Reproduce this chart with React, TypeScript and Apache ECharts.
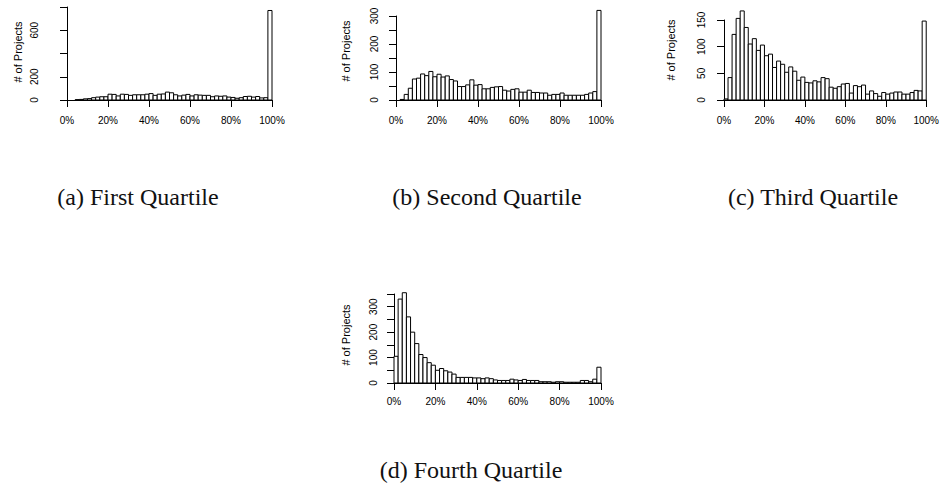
import React, { useEffect, useRef } from "react";
import * as echarts from "echarts";

// Histogram bin width in percent (50 bins from 0% to 100%)
const binWidth = 2;

// Counts per 2% bin
const q1Counts = [
  0, 0, 3, 5, 10, 12, 20, 25, 28, 28,
  50, 48, 35, 50, 48, 40, 45, 45, 45, 50,
  55, 40, 50, 52, 68, 62, 45, 35, 42, 48,
  35, 45, 42, 40, 40, 28, 35, 32, 35, 25,
  22, 15, 20, 30, 32, 25, 30, 18, 20, 770,
];
const q2Counts = [
  0, 2, 20, 42, 75, 78, 93, 87, 102, 83,
  92, 82, 86, 73, 68, 48, 48, 54, 72, 53,
  55, 40, 40, 45, 47, 48, 35, 32, 38, 40,
  28, 28, 35, 27, 27, 25, 25, 17, 20, 20,
  25, 17, 17, 17, 17, 17, 20, 25, 30, 320,
];
const q3Counts = [
  2, 42, 123, 153, 167, 136, 105, 115, 93, 103,
  83, 86, 61, 73, 67, 52, 62, 54, 37, 43,
  33, 32, 36, 34, 42, 40, 24, 22, 25, 30,
  31, 13, 27, 25, 28, 11, 17, 12, 7, 14,
  11, 13, 15, 15, 11, 11, 14, 18, 17, 148,
];
const q4Counts = [
  105, 330, 355, 260, 200, 155, 112, 100, 80, 70,
  50, 57, 48, 43, 35, 22, 22, 22, 22, 20,
  20, 17, 20, 17, 12, 10, 10, 10, 15, 12,
  10, 14, 10, 10, 10, 5, 5, 5, 3, 5,
  5, 3, 3, 3, 3, 10, 10, 5, 15, 62,
];

const captions = ["(a) First Quartile", "(b) Second Quartile", "(c) Third Quartile", "(d) Fourth Quartile"];
const yTitle = "# of Projects";

// y-axis scales: max, tick interval, labelled ticks
const yMax = [800, 300, 150, 350];
const yInterval = [200, 50, 50, 50];
const yLabelled = [[0, 200, 600], [0, 100, 200, 300], [0, 50, 100, 150], [0, 100, 200, 300]];

// layout (pixels)
const panels = [
  { left: 67, top: 7, width: 205, height: 93, yOff: 9, xOff: 6, lblMargin: 19, titleX: 18, titleY: 52, capX: 138, capY: 197 },
  { left: 396, top: 16, width: 205, height: 84, yOff: 2, xOff: 6, lblMargin: 15, titleX: 346, titleY: 51, capX: 487, capY: 197 },
  { left: 724, top: 20, width: 205, height: 80, yOff: 1, xOff: 6, lblMargin: 17, titleX: 671, titleY: 50, capX: 813, capY: 197 },
  { left: 394, top: 294, width: 207, height: 89, yOff: 1, xOff: 4, lblMargin: 15, titleX: 346, titleY: 335, capX: 471, capY: 470 },
];

const allCounts = [q1Counts, q2Counts, q3Counts, q4Counts];

export default function App() {
  const ref = useRef<HTMLDivElement>(null);
  useEffect(() => {
    if (!ref.current) return;
    const chart = echarts.init(ref.current, undefined, { renderer: "svg" });
    const axisColor = "#000";
    const tickFont = { fontFamily: "Liberation Sans", fontSize: 10, color: "#000" };

    const grid = panels.map((p) => ({ left: p.left, top: p.top, width: p.width, height: p.height, containLabel: false }));
    const xAxis = panels.map((p, i) => ({
      type: "value",
      gridIndex: i,
      min: 0,
      max: 100,
      interval: 20,
      offset: p.xOff,
      axisLine: { show: true, lineStyle: { color: axisColor, width: 1 } },
      axisTick: { show: true, length: 7, lineStyle: { color: axisColor } },
      axisLabel: { ...tickFont, margin: 9, formatter: (v: number) => `${v}%` },
      splitLine: { show: false },
    }));
    const yAxis = panels.map((p, i) => ({
      type: "value",
      gridIndex: i,
      min: 0,
      max: yMax[i],
      interval: yInterval[i],
      offset: p.yOff,
      axisLine: { show: true, lineStyle: { color: axisColor, width: 1 } },
      axisTick: { show: true, length: 7, lineStyle: { color: axisColor } },
      axisLabel: {
        ...tickFont,
        rotate: 90,
        margin: p.lblMargin,
        formatter: (v: number) => (yLabelled[i].includes(v) ? String(v) : ""),
      },
      splitLine: { show: false },
    }));
    const series = allCounts.map((counts, i) => ({
      type: "custom",
      xAxisIndex: i,
      yAxisIndex: i,
      clip: false,
      data: counts
        .map((c, k) => [k * binWidth, (k + 1) * binWidth, c])
        .filter((d) => d[2] > 0),
      encode: { x: [0, 1], y: 2 },
      renderItem: (params: any, api: any) => {
        const x0 = api.value(0);
        const x1 = api.value(1);
        const v = api.value(2);
        const p0 = api.coord([x0, v]);
        const p1 = api.coord([x1, 0]);
        return {
          type: "rect",
          shape: { x: p0[0], y: p0[1], width: p1[0] - p0[0], height: p1[1] - p0[1] },
          style: { fill: "#fff", stroke: "#000", lineWidth: 1 },
        };
      },
    }));
    const graphic: any[] = [];
    panels.forEach((p, i) => {
      graphic.push({
        type: "text",
        x: p.titleX,
        y: p.titleY,
        rotation: Math.PI / 2,
        style: {
          text: yTitle,
          font: '11px "Liberation Sans"',
          fill: "#000",
          textAlign: "center",
          textVerticalAlign: "middle",
        },
      });
      graphic.push({
        type: "text",
        x: p.capX,
        y: p.capY,
        style: {
          text: captions[i],
          font: '24px "Liberation Serif"',
          fill: "#111",
          textAlign: "center",
          textVerticalAlign: "middle",
        },
      });
    });

    chart.setOption({
      animation: false,
      backgroundColor: "#fff",
      grid,
      xAxis,
      yAxis,
      series,
      graphic,
    } as any);
    return () => chart.dispose();
  }, []);
  return (
    <div
      ref={ref}
      style={{ position: "absolute", left: 0, top: 0, width: 942, height: 498, background: "#fff" }}
    />
  );
}
